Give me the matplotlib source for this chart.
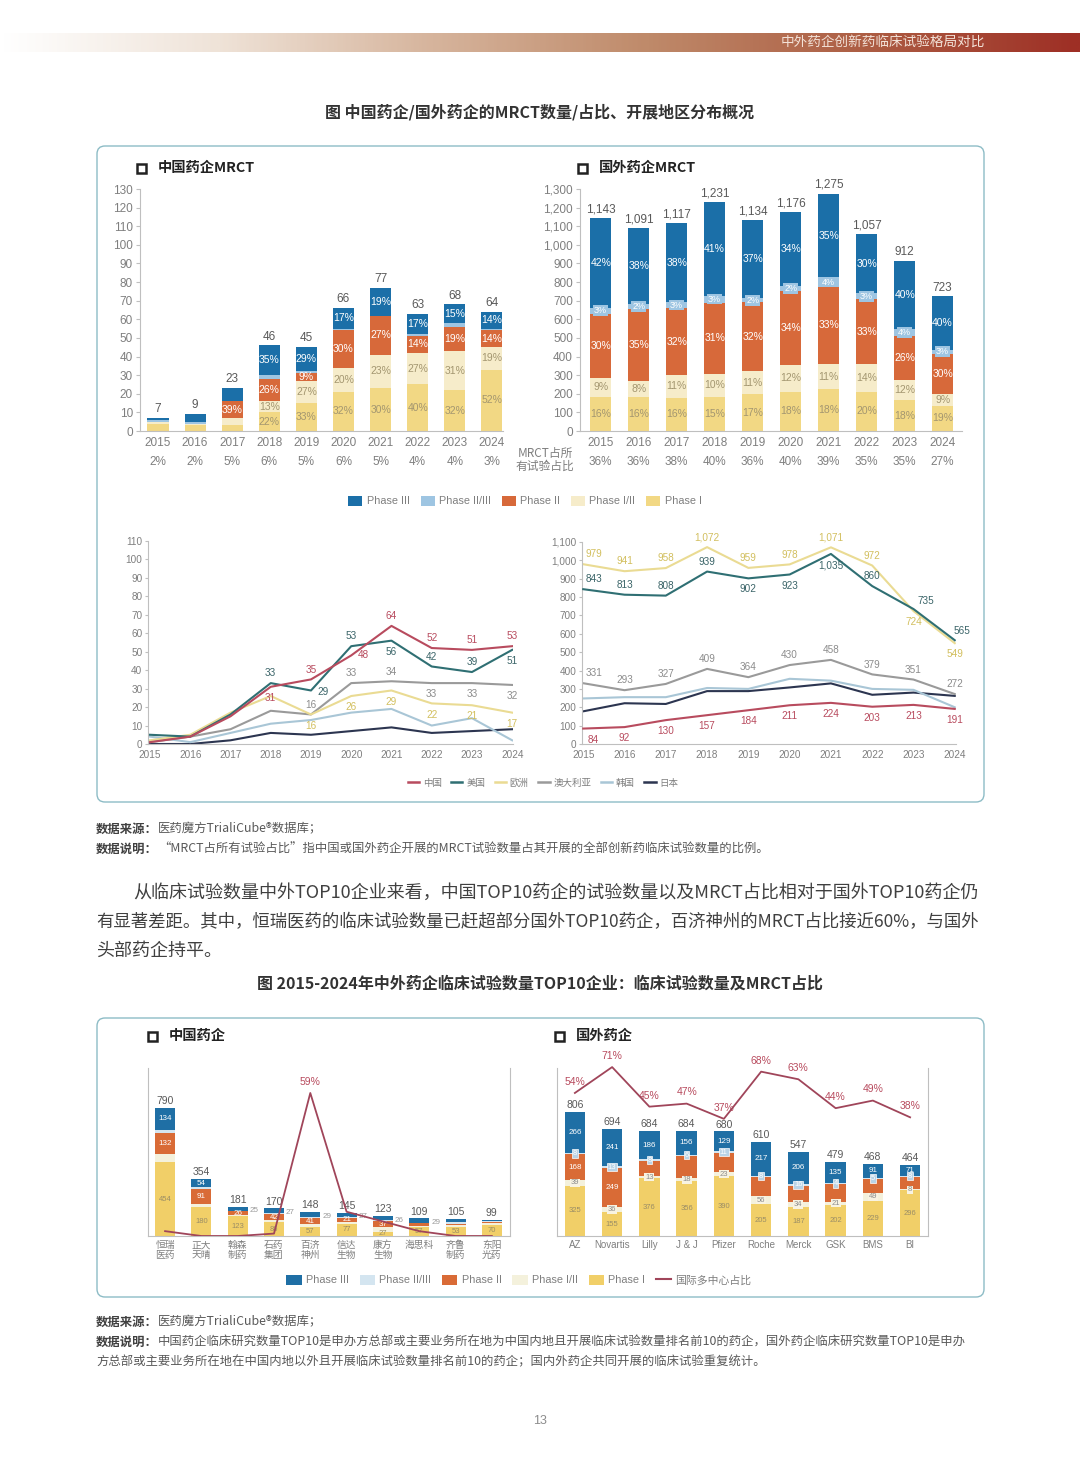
import numpy as np
import matplotlib.pyplot as plt
from matplotlib.patches import FancyBboxPatch, Rectangle, Patch
from matplotlib.lines import Line2D
from matplotlib.colors import LinearSegmentedColormap
from matplotlib.ticker import FuncFormatter

plt.rcParams['font.family'] = ['Liberation Sans', 'Noto Sans CJK SC', 'DejaVu Sans']
CJK = ['Noto Sans CJK SC', 'DejaVu Sans']

# ---------------- data ----------------
years = [str(y) for y in range(2015, 2025)]

# 中国药企MRCT (counts by phase)
cn_p1 = [4, 3, 3, 10, 15, 21, 23, 25, 22, 33]
cn_p12 = [1, 1, 4, 6, 12, 13, 18, 17, 21, 12]
cn_p2 = [0, 0, 9, 12, 4, 20, 21, 9, 13, 9]
cn_p23 = [1, 1, 0, 2, 1, 1, 0, 1, 2, 1]
cn_p3 = [1, 4, 7, 16, 13, 11, 15, 11, 10, 9]
cn_share = [2, 2, 5, 6, 5, 6, 5, 4, 4, 3]

# 国外药企MRCT
fg_p1 = [183, 180, 179, 185, 198, 212, 225, 211, 164, 136]
fg_p12 = [103, 90, 123, 123, 125, 141, 135, 148, 109, 65]
fg_p2 = [343, 385, 357, 382, 368, 400, 415, 349, 237, 214]
fg_p23 = [34, 25, 34, 37, 23, 24, 50, 32, 36, 22]
fg_p3 = [480, 411, 424, 504, 420, 399, 450, 317, 366, 286]
fg_share = [36, 36, 38, 40, 36, 40, 39, 35, 35, 27]

# regions, China companies
region_names = ['中国', '美国', '欧洲', '澳大利亚', '韩国', '日本']
cnr_china = [1, 4, 15, 31, 35, 48, 64, 52, 51, 53]
cnr_us = [5, 4, 16, 33, 29, 53, 56, 42, 39, 51]
cnr_eu = [2, 5, 17, 26, 16, 26, 29, 22, 21, 17]
cnr_au = [1, 4, 8, 18, 16, 33, 34, 33, 33, 32]
cnr_kr = [4, 1, 6, 11, 13, 17, 19, 10, 14, 2]
cnr_jp = [0, 0, 2, 6, 5, 7, 9, 6, 7, 8]

# regions, foreign companies
fgr_china = [84, 92, 130, 157, 184, 211, 224, 203, 213, 191]
fgr_us = [843, 813, 808, 939, 902, 923, 1035, 860, 735, 565]
fgr_eu = [979, 941, 958, 1072, 959, 978, 1071, 972, 724, 549]
fgr_au = [331, 293, 327, 409, 364, 430, 458, 379, 351, 272]
fgr_kr = [248, 255, 255, 305, 300, 355, 345, 300, 295, 200]
fgr_jp = [178, 222, 218, 288, 288, 308, 330, 268, 280, 262]

# TOP10 companies
cn_cos = ['恒瑞\n医药', '正大\n天晴', '翰森\n制药', '石药\n集团', '百济\n神州',
          '信达\n生物', '康方\n生物', '海思科', '齐鲁\n制药', '东阳\n光药']
co_cn_p1 = [454, 180, 123, 86, 57, 77, 27, 57, 53, 70]
co_cn_p12 = [50, 20, 5, 10, 15, 12, 28, 2, 14, 12]
co_cn_p2 = [132, 91, 26, 42, 41, 21, 37, 19, 6, 5]
co_cn_p23 = [20, 9, 2, 5, 6, 8, 5, 2, 14, 6]
co_cn_p3 = [134, 54, 25, 27, 29, 27, 26, 29, 18, 6]
co_cn_mrct = [2, 0, 0, 1, 59, 10, 6, 2, 0, 0]

fg_cos = ['AZ', 'Novartis', 'Lilly', 'J & J', 'Pfizer', 'Roche', 'Merck', 'GSK', 'BMS', 'BI']
co_fg_p1 = [325, 155, 376, 356, 390, 205, 187, 202, 229, 296]
co_fg_p12 = [39, 36, 13, 18, 23, 56, 34, 21, 49, 8]
co_fg_p2 = [168, 249, 101, 148, 127, 124, 104, 117, 94, 81]
co_fg_p23 = [8, 13, 8, 6, 11, 8, 16, 4, 5, 8]
co_fg_p3 = [266, 241, 186, 156, 129, 217, 206, 135, 91, 71]
co_fg_mrct = [54, 71, 45, 47, 37, 68, 63, 44, 49, 38]

# ---------------- styles ----------------
TOP_COLORS = ['#f2d884', '#f6ecca', '#d7693a', '#9ec5e2', '#1b6fa8']  # I, I/II, II, II/III, III
BOT_COLORS = ['#f1cf68', '#f4f1dc', '#d96b36', '#d4e5f0', '#1f6fa5']
LINE_COLORS = ['#b84b5e', '#2f6f73', '#eadb93', '#9a9a9a', '#a9c6d6', '#2c3550']
LABEL_COLORS = ['#b84b5e', '#3a6468', '#d2bf5e', '#8c8c8c', '#a9c6d6', '#2c3550']
GREY = '#7f7f7f'
DARK = '#595959'

W, H = 1080, 1466
fig = plt.figure(figsize=(W / 100, H / 100), dpi=100)


def px_axes(x0, y0, x1, y1):
    return fig.add_axes([x0 / W, 1 - y1 / H, (x1 - x0) / W, (y1 - y0) / H])


# background layer in pixel coordinates
bg = fig.add_axes([0, 0, 1, 1], zorder=-5)
grad = np.linspace(0, 1, 400).reshape(1, -1)
cmap = LinearSegmentedColormap.from_list('hdr', ['#ffffff', '#efe3d8', '#d6b49c', '#bf8a6a',
                                                  '#ad5e44', '#9e2f25'])
bg.imshow(grad, extent=(0, W, 52, 33), aspect='auto', cmap=cmap)
bg.set_xlim(0, W)
bg.set_ylim(H, 0)
bg.axis('off')
bg.text(985, 43, '中外药企创新药临床试验格局对比', ha='right', va='center', fontsize=9.8,
        color='#f3e2d8', family=CJK)

bg.text(540, 112, '图 中国药企/国外药企的MRCT数量/占比、开展地区分布概况', ha='center', va='center',
        fontsize=11.5, fontweight='bold', color='#333333', family=CJK)

for (bx, by, bw, bh) in [(97, 146, 887, 656), (97, 1018, 887, 279)]:
    bg.add_patch(FancyBboxPatch((bx, by), bw, bh, boxstyle='round,pad=0,rounding_size=8',
                                ec='#8dbcc6', fc='none', lw=1.0))


def box_title(x, y, s):
    bg.add_patch(Rectangle((x, y - 4.5), 9, 9, fill=False, ec='#222222', lw=1.8))
    bg.text(x + 21, y, s, ha='left', va='center', fontsize=10.3, fontweight='bold',
            color='#222222', family=CJK)


box_title(137, 168, '中国药企MRCT')
box_title(578, 168, '国外药企MRCT')
box_title(148, 1036, '中国药企')
box_title(555, 1036, '国外药企')


def style_axis(ax, fs=8.5):
    ax.set_facecolor('none')
    for s in ['top', 'right']:
        ax.spines[s].set_visible(False)
    for s in ['left', 'bottom']:
        ax.spines[s].set_color('#bfbfbf')
        ax.spines[s].set_linewidth(0.8)
    ax.tick_params(axis='y', length=3, color='#bfbfbf', labelsize=fs, labelcolor=GREY, pad=2)
    ax.tick_params(axis='x', length=0, labelsize=fs, labelcolor=GREY, pad=4)


def draw_stack(ax, x, stacks, colors, width):
    bottom = np.zeros(len(x))
    segs = []
    for vals, c in zip(stacks, colors):
        vals = np.asarray(vals, float)
        ax.bar(x, vals, width, bottom=bottom, color=c, edgecolor='none', zorder=2)
        segs.append((bottom.copy(), vals))
        bottom = bottom + vals
    return segs, bottom


x = np.arange(10)
seg_txt = ['#a39670', '#a39670', 'white', 'white', 'white']

# ---------------- top-left: 中国药企MRCT ----------------
ax1 = px_axes(140, 189, 503, 431)
segs, tot = draw_stack(ax1, x, [cn_p1, cn_p12, cn_p2, cn_p23, cn_p3], TOP_COLORS, 0.57)
ax1.set_xlim(-0.485, 9.3)
ax1.set_ylim(0, 130)
ax1.set_yticks(range(0, 131, 10))
ax1.set_xticks(x)
ax1.set_xticklabels(years)
style_axis(ax1)
for i in x:
    ax1.text(i, tot[i] + 1.5, f'{int(tot[i])}', ha='center', va='bottom', fontsize=8.5, color=DARK)
    ax1.text(i, -0.128, f'{cn_share[i]}%', transform=ax1.get_xaxis_transform(), ha='center',
             va='center', fontsize=8.5, color=GREY)
    for k, (b, v) in enumerate(segs):
        if v[i] <= 0 or k == 3:
            continue
        if tot[i] < 20 or (tot[i] < 40 and k != 2):
            continue
        ax1.text(i, b[i] + v[i] / 2, f'{round(100 * v[i] / tot[i])}%', ha='center', va='center',
                 fontsize=7.5, color=seg_txt[k], zorder=3)

# ---------------- top-right: 国外药企MRCT ----------------
ax2 = px_axes(580, 189, 962, 431)
segs, tot = draw_stack(ax2, x, [fg_p1, fg_p12, fg_p2, fg_p23, fg_p3], TOP_COLORS, 0.55)
ax2.set_xlim(-0.545, 9.51)
ax2.set_ylim(0, 1300)
ax2.set_yticks(range(0, 1301, 100))
ax2.yaxis.set_major_formatter(FuncFormatter(lambda v, p: f'{int(v):,}'))
ax2.set_xticks(x)
ax2.set_xticklabels(years)
style_axis(ax2)
for i in x:
    ax2.text(i, tot[i] + 15, f'{int(tot[i]):,}', ha='center', va='bottom', fontsize=8.5, color=DARK)
    ax2.text(i, -0.128, f'{fg_share[i]}%', transform=ax2.get_xaxis_transform(), ha='center',
             va='center', fontsize=8.5, color=GREY)
    for k, (b, v) in enumerate(segs):
        lab = f'{round(100 * v[i] / tot[i])}%'
        if k == 3:
            ax2.text(i, b[i] + v[i] / 2, lab, ha='center', va='center', fontsize=6.5, color='white',
                     zorder=3, bbox=dict(fc=TOP_COLORS[3], ec='none', pad=0.6))
        else:
            ax2.text(i, b[i] + v[i] / 2, lab, ha='center', va='center', fontsize=7.5,
                     color=seg_txt[k], zorder=3)

bg.text(545, 460, 'MRCT占所\n有试验占比', ha='center', va='center', fontsize=8.5, color=GREY,
        linespacing=1.05, family=CJK)

# phase legend
order = [4, 3, 2, 1, 0]
names = ['Phase III', 'Phase II/III', 'Phase II', 'Phase I/II', 'Phase I']
handles = [Patch(fc=TOP_COLORS[k], ec='none') for k in order]
fig.legend(handles, names, ncol=5, loc='center', bbox_to_anchor=(525 / W, 1 - 501 / H),
           frameon=False, fontsize=7.8, labelcolor=GREY, handlelength=1.3, handleheight=1.1,
           columnspacing=1.0, handletextpad=0.4)

# ---------------- line charts ----------------
cn_series = [cnr_china, cnr_us, cnr_eu, cnr_au, cnr_kr, cnr_jp]
fg_series = [fgr_china, fgr_us, fgr_eu, fgr_au, fgr_kr, fgr_jp]

up, dn = (0, 7), (0, -8)
cn_label_pos = {
    0: {3: dn, 4: up, 5: (9, 0), 6: up, 7: up, 8: up, 9: up},
    1: {3: up, 4: (9, -1), 5: up, 6: dn, 7: up, 8: up, 9: dn},
    2: {4: dn, 5: dn, 6: dn, 7: dn, 8: dn, 9: dn},
    3: {4: up, 5: up, 6: up, 7: dn, 8: dn, 9: dn},
}
fg_label_pos = {
    0: {**{i: dn for i in range(10)}, 0: (7, -8)},
    1: {0: (8, 7), 1: up, 2: up, 3: up, 4: dn, 5: dn, 6: dn, 7: up, 8: (9, 6), 9: (5, 7)},
    2: {0: (8, 7), 1: up, 2: up, 3: up, 4: up, 5: up, 6: up, 7: up, 8: dn, 9: dn},
    3: {**{i: up for i in range(10)}, 0: (8, 7)},
}


def line_chart(ax, series, label_pos, ymax, step, fmt):
    for s in range(len(series) - 1, -1, -1):
        ax.plot(x, series[s], color=LINE_COLORS[s], lw=1.5, zorder=2 + (s in (0, 1)))
    for s, pos in label_pos.items():
        for i, off in pos.items():
            ax.annotate(fmt(series[s][i]), (x[i], series[s][i]), xytext=off,
                        textcoords='offset points', ha='center', va='center', fontsize=7.2,
                        color=LABEL_COLORS[s], zorder=4)
    ax.set_ylim(0, ymax)
    ax.set_yticks(range(0, ymax + 1, step))
    ax.yaxis.set_major_formatter(FuncFormatter(lambda v, p: f'{int(v):,}'))
    ax.set_xticks(x)
    ax.set_xticklabels(years)
    style_axis(ax, fs=7.2)
    ax.tick_params(axis='y', length=2)


ax3 = px_axes(148, 541, 513, 744)
line_chart(ax3, cn_series, cn_label_pos, 110, 10, lambda v: f'{v}')
ax3.set_xlim(-0.05, 9.02)

ax4 = px_axes(582, 542, 956, 744)
line_chart(ax4, fg_series, fg_label_pos, 1100, 100, lambda v: f'{v:,}')
ax4.set_xlim(-0.03, 9.03)

lhandles = [Line2D([0], [0], color=c, lw=1.8) for c in LINE_COLORS]
fig.legend(lhandles, region_names, ncol=6, loc='center', bbox_to_anchor=(543 / W, 1 - 783 / H),
           frameon=False, fontsize=6.8, labelcolor=GREY, handlelength=1.2,
           columnspacing=1.0, handletextpad=0.4)

# ---------------- page text ----------------
SRC_FS = 8.9


def label_line(y, head, rest, fs=SRC_FS):
    t = bg.text(96, y, head, ha='left', va='center', fontsize=fs, fontweight='bold', color='#404040',
                family=CJK)
    bg.annotate(rest, xy=(1, 0.5), xycoords=t, ha='left', va='center', fontsize=fs, color=DARK,
                family=CJK)


label_line(829, '数据来源：', '医药魔方TrialiCube®数据库；')
label_line(849, '数据说明：', '“MRCT占所有试验占比”指中国或国外药企开展的MRCT试验数量占其开展的全部创新药临床试验数量的比例。')

para = ['从临床试验数量中外TOP10企业来看，中国TOP10药企的试验数量以及MRCT占比相对于国外TOP10药企仍',
        '有显著差距。其中，恒瑞医药的临床试验数量已赶超部分国外TOP10药企，百济神州的MRCT占比接近60%，与国外',
        '头部药企持平。']
bg.text(133, 893, para[0], ha='left', va='center', fontsize=13, color='#404040', family=CJK)
bg.text(96, 922, para[1], ha='left', va='center', fontsize=12.55, color='#404040', family=CJK)
bg.text(96, 951, para[2], ha='left', va='center', fontsize=13, color='#404040', family=CJK)

bg.text(540, 984, '图 2015-2024年中外药企临床试验数量TOP10企业：临床试验数量及MRCT占比', ha='center',
        va='center', fontsize=11.5, fontweight='bold', color='#333333', family=CJK)

# ---------------- bottom-left: 中国药企 TOP10 ----------------
def company_axes(ax, names, ymax):
    ax.set_facecolor('none')
    ax.set_ylim(0, ymax)
    ax.set_yticks([])
    ax.spines['top'].set_visible(False)
    for s in ['left', 'right', 'bottom']:
        ax.spines[s].set_color('#bfbfbf')
        ax.spines[s].set_linewidth(0.8)
    ax.set_xticks(x)
    ax.set_xticklabels(names, linespacing=1.0)
    ax.tick_params(axis='x', length=0, labelsize=7, labelcolor=GREY, pad=3)


ax5 = px_axes(148, 1068, 510, 1236)
segs, tot = draw_stack(ax5, x, [co_cn_p1, co_cn_p12, co_cn_p2, co_cn_p23, co_cn_p3], BOT_COLORS, 0.55)
ax5.set_xlim(-0.47, 9.5)
company_axes(ax5, cn_cos, 1037)
for i in x:
    ax5.text(i, tot[i] + 10, f'{int(tot[i])}', ha='center', va='bottom', fontsize=7.5, color=DARK)
    b, v = segs[0]
    ax5.text(i, b[i] + v[i] / 2, f'{int(v[i])}', ha='center', va='center', fontsize=5.5,
             color='#9a8d66', zorder=3)
    b, v = segs[2]
    if v[i] >= 20:
        ax5.text(i, b[i] + v[i] / 2, f'{int(v[i])}', ha='center', va='center', fontsize=5.8,
                 color='white', zorder=3)
    b, v = segs[4]
    if v[i] >= 50:
        ax5.text(i, b[i] + v[i] / 2, f'{int(v[i])}', ha='center', va='center', fontsize=5.8,
                 color='white', zorder=3)
    elif v[i] >= 21:
        ax5.text(i + 0.33, b[i] + v[i] / 2 - 12, f'{int(v[i])}', ha='left', va='center',
                 fontsize=5.8, color='#9a9a9a', zorder=3)
tw5 = ax5.twinx()
tw5.plot(x, co_cn_mrct, color='#a0455a', lw=1.3, zorder=4)
tw5.set_ylim(0, 69.3)
tw5.axis('off')
pk = int(np.argmax(co_cn_mrct))
tw5.annotate(f'{co_cn_mrct[pk]}%', (x[pk], co_cn_mrct[pk]), xytext=(0, 8), textcoords='offset points',
             ha='center', va='center', fontsize=7.5, color='#b84b5e')

# ---------------- bottom-right: 国外药企 TOP10 ----------------
ax6 = px_axes(557, 1068, 928, 1236)
segs, tot = draw_stack(ax6, x, [co_fg_p1, co_fg_p12, co_fg_p2, co_fg_p23, co_fg_p3], BOT_COLORS, 0.55)
ax6.set_xlim(-0.48, 9.48)
company_axes(ax6, fg_cos, 1092)
for i in x:
    ax6.text(i, tot[i] + 12, f'{int(tot[i])}', ha='center', va='bottom', fontsize=7.5, color=DARK)
    for k, (b, v) in enumerate(segs):
        yc = b[i] + v[i] / 2
        if k == 0:
            ax6.text(i, yc, f'{int(v[i])}', ha='center', va='center', fontsize=5.5, color='#9a8d66',
                     zorder=3)
        elif k == 1:
            ax6.text(i, yc, f'{int(v[i])}', ha='center', va='center', fontsize=5.5, color='#8c8c8c',
                     zorder=3, bbox=dict(fc='#f8f3e2', ec='none', pad=0.5))
        elif k == 2 and v[i] >= 150:
            ax6.text(i, yc, f'{int(v[i])}', ha='center', va='center', fontsize=5.8, color='white',
                     zorder=3)
        elif k == 3:
            ax6.text(i, yc, f'{int(v[i])}', ha='center', va='center', fontsize=5.5, color='white',
                     zorder=3, bbox=dict(fc='#b9d3e6', ec='white', lw=0.5, pad=0.5))
        elif k == 4:
            ax6.text(i, yc, f'{int(v[i])}', ha='center', va='center', fontsize=5.8, color='white',
                     zorder=3)
tw6 = ax6.twinx()
tw6.plot(x, co_fg_mrct, color='#a0455a', lw=1.3, zorder=4, clip_on=False)
tw6.set_ylim(-40, 70.4)
tw6.axis('off')
for i in x:
    tw6.annotate(f'{co_fg_mrct[i]}%', (x[i], co_fg_mrct[i]), xytext=(0, 8), textcoords='offset points',
                 ha='center', va='center', fontsize=7.5, color='#b84b5e', annotation_clip=False)

bhandles = [Patch(fc=BOT_COLORS[k], ec='none') for k in order] + [Line2D([0], [0], color='#a0455a', lw=1.5)]
fig.legend(bhandles, names + ['国际多中心占比'], ncol=6, loc='center',
           bbox_to_anchor=(519 / W, 1 - 1280 / H), frameon=False, fontsize=7.8, labelcolor=GREY,
           handlelength=1.4, handleheight=1.1, columnspacing=1.0, handletextpad=0.4)

label_line(1322, '数据来源：', '医药魔方TrialiCube®数据库；')
label_line(1342, '数据说明：', '中国药企临床研究数量TOP10是申办方总部或主要业务所在地为中国内地且开展临床试验数量排名前10的药企，国外药企临床研究数量TOP10是申办')
bg.text(96, 1362, '方总部或主要业务所在地在中国内地以外且开展临床试验数量排名前10的药企；国内外药企共同开展的临床试验重复统计。',
        ha='left', va='center', fontsize=SRC_FS, color=DARK, family=CJK)

bg.text(540, 1421, '13', ha='center', va='center', fontsize=9, color='#8c8c8c')

fig.savefig('out.png', dpi=100)
